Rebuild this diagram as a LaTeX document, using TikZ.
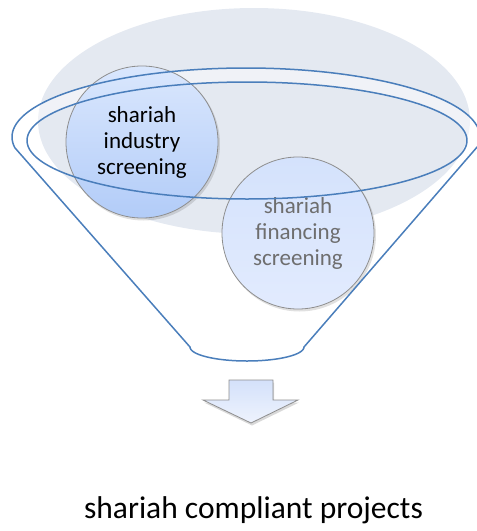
\documentclass[tikz,border=0pt]{standalone}
\usepackage{fontspec}
\setmainfont{Carlito}
\usetikzlibrary{shadows}
\definecolor{funnelblue}{HTML}{4A7EBB}
\definecolor{backgray}{HTML}{E4E9F1}
\definecolor{rimgray}{HTML}{8E8E8E}
\definecolor{indtop}{HTML}{DAE7FD}
\definecolor{indbot}{HTML}{B2CCF8}
\definecolor{fintop}{HTML}{D4E2FC}
\definecolor{finbot}{HTML}{E2EBFE}
\definecolor{fintext}{HTML}{6E6E6E}
\definecolor{arrtop}{HTML}{D4E1FA}
\definecolor{arrbot}{HTML}{EEF3FD}
\begin{document}
\begin{tikzpicture}[x=1pt,y=-1pt,
  funnelline/.style={draw=funnelblue, line width=1.5pt, line join=round},
  bubble/.style={circle, minimum size=152pt, inner sep=0pt, draw=rimgray, line width=0.8pt,
     align=center, font=\fontsize{23}{26}\selectfont},
  bubbleshadow/.style={fill=black, opacity=0.12},
  caption/.style={font=\fontsize{31.5}{36}\selectfont, anchor=base}]
\useasboundingbox (0,0) rectangle (477,531);
% background ellipse
\fill[backgray] (254,121) ellipse [x radius=216, y radius=113];
% lighter rim of the funnel mouth
\begin{scope}
  \clip (0,0) rectangle (477,150);
  \fill[white, opacity=0.45, even odd rule] (246,137) ellipse [x radius=234, y radius=69]
     (247,140.5) ellipse [x radius=220, y radius=58.5];
\end{scope}
% bubble shadows
\fill[bubbleshadow] (143.5,144) circle [radius=76.5];
\fill[bubbleshadow] (299.5,235) circle [radius=76.5];
% bubbles
\node[bubble, top color=indtop, bottom color=indbot]
   (ind) at (142,142) {shariah\\industry\\screening};
\node[bubble, text=fintext, top color=fintop, bottom color=finbot]
   (fin) at (298,233) {shariah\\financing\\screening};
% funnel
\coordinate (rbot) at (304,347);
\coordinate (rtop) at (478,146);
\coordinate (ltop) at (15,148);
\coordinate (lbot) at (190,347);
\path[funnelline] (rbot) -- (rtop)
   -- plot[domain=-8:189, samples=90, smooth] ({246+234*cos(\x)},{137-69*sin(\x)})
   -- (lbot)
   -- plot[domain=180:360, samples=40, smooth] ({247+57*cos(\x)},{347-14*sin(\x)});
\draw[funnelline] (247,140.5) ellipse [x radius=220, y radius=58.5];
% arrow
\path[draw=rimgray, line width=0.8pt, line join=miter,
      top color=arrtop, bottom color=arrbot,
      drop shadow={opacity=0.3, shadow xshift=1pt, shadow yshift=-2.5pt}]
   (229,380) -- (273,380) -- (273,400) -- (298,400) -- (251,423) -- (203,400) -- (229,400) -- cycle;
% result text
\node[caption] (res) at (253.5,518) {shariah compliant projects};
\end{tikzpicture}
\end{document}
